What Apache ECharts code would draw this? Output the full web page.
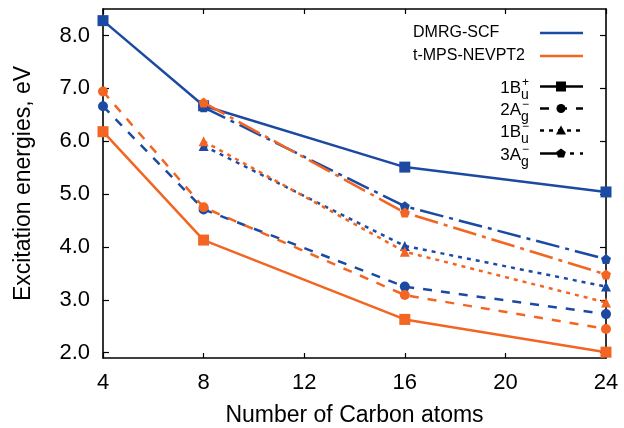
<!DOCTYPE html>
<html><head><meta charset="utf-8">
<script src="https://cdn.jsdelivr.net/npm/echarts@6/dist/echarts.min.js"></script>
<style>html,body{margin:0;padding:0;background:#fff}#c{width:624px;height:428px}</style>
</head><body><div id="c"></div>
<script>
// ---- data ----
const carbons = [4, 8, 16, 24];
const xTickValues = [4, 8, 12, 16, 20, 24];
const yTickValues = [2, 3, 4, 5, 6, 7, 8];
const dmrg_1Bu_plus   = [8.28, 6.67, 5.51, 5.04];
const nevpt_1Bu_plus  = [6.18, 4.13, 2.63, 2.01];
const dmrg_2Ag_minus  = [6.66, 4.71, 3.25, 2.73];
const nevpt_2Ag_minus = [6.94, 4.75, 3.09, 2.45];
const dmrg_1Bu_minus  = [null, 5.91, 4.02, 3.25];
const nevpt_1Bu_minus = [null, 6.00, 3.91, 2.95];
const dmrg_3Ag_minus  = [null, 6.64, 4.77, 3.77];
const nevpt_3Ag_minus = [null, 6.73, 4.65, 3.48];

const BLUE = '#1c4aa3';
const ORANGE = '#f26522';
const FONT = '"Liberation Sans", Arial, Helvetica, sans-serif';
const PENT = 'path://M0,-10 L9.5,-3.1 L5.9,8.1 L-5.9,8.1 L-9.5,-3.1 Z';

function pairs(vals) {
  const out = [];
  carbons.forEach((c, i) => { if (vals[i] != null) out.push([c, vals[i]]); });
  return out;
}
function mk(name, vals, color, dash, symbol, size) {
  return {
    name, type: 'line', data: pairs(vals),
    symbol, symbolSize: size,
    itemStyle: { color },
    lineStyle: { color, width: 2.5, type: dash },
    animation: false, z: color === ORANGE ? 3 : 2
  };
}

const chart = echarts.init(document.getElementById('c'), null, { renderer: 'canvas' });

const axisCommon = {
  axisLine: { show: true, onZero: false, lineStyle: { color: '#000', width: 1.6 } },
  splitLine: { show: false }
};

// legend graphics
const g = [];
function legendText(x, y, text, size, align) {
  g.push({ type: 'text', x: x, y: y, style: { text, font: size + 'px ' + FONT, fill: '#000', align: align, verticalAlign: 'middle' } });
}
function legendLine(y, color, dash) {
  g.push({ type: 'line', shape: { x1: 540, y1: y, x2: 583, y2: y }, style: { stroke: color, lineWidth: 2.5, lineDash: dash } });
}
legendText(413, 33, 'DMRG-SCF', 16, 'left');
legendLine(33, BLUE, null);
legendText(413, 56, 't-MPS-NEVPT2', 16, 'left');
legendLine(56, ORANGE, null);

const rows = [
  { y: 88, main: '1B', sub: 'u', sup: '+', dash: null, marker: 'square' },
  { y: 110, main: '2A', sub: 'g', sup: '\u2212', dash: [9, 9], marker: 'circle' },
  { y: 132, main: '1B', sub: 'u', sup: '\u2212', dash: [4, 5], marker: 'triangle' },
  { y: 155, main: '3A', sub: 'g', sup: '\u2212', dash: [24, 6, 4, 6], marker: 'pent' }
];
rows.forEach(r => {
  legendText(521, r.y, r.main, 17, 'right');
  legendText(521, r.y + 7, r.sub, 14, 'left');
  legendText(522, r.y - 5, r.sup, 12, 'left');
  const ly = r.y - 1.5;
  legendLine(ly, '#000', r.dash);
  const cx = 561, cy = ly;
  if (r.marker === 'square') g.push({ type: 'rect', shape: { x: cx - 5, y: cy - 5, width: 10, height: 10 }, style: { fill: '#000' } });
  if (r.marker === 'circle') g.push({ type: 'circle', shape: { cx, cy, r: 4.5 }, style: { fill: '#000' } });
  if (r.marker === 'triangle') g.push({ type: 'polygon', shape: { points: [[cx, cy - 5], [cx + 5, cy + 4], [cx - 5, cy + 4]] }, style: { fill: '#000' } });
  if (r.marker === 'pent') g.push({ type: 'polygon', shape: { points: [[cx, cy - 5], [cx + 4.8, cy - 1.5], [cx + 3, cy + 4], [cx - 3, cy + 4], [cx - 4.8, cy - 1.5]] }, style: { fill: '#000' } });
});

chart.setOption({
  animation: false,
  backgroundColor: '#fff',
  textStyle: { fontFamily: FONT },
  grid: { left: 103, right: 18, top: 9, bottom: 70, containLabel: false, outerBoundsMode: 'none' },
  xAxis: [
    Object.assign({}, axisCommon, {
      type: 'value', min: 4, max: 24, interval: 4, position: 'bottom',
      name: 'Number of Carbon atoms', nameLocation: 'middle', nameGap: 46,
      nameTextStyle: { fontSize: 23, color: '#000', fontFamily: FONT },
      axisTick: { show: true, inside: true, length: 5, lineStyle: { color: '#000', width: 1.2 } },
      axisLabel: { show: true, fontSize: 22, color: '#000', margin: 14, fontFamily: FONT,
        customValues: xTickValues }
    }),
    Object.assign({}, axisCommon, {
      type: 'value', min: 4, max: 24, interval: 4, position: 'top',
      axisTick: { show: true, inside: true, length: 5, lineStyle: { color: '#000', width: 1.2 } },
      axisLabel: { show: false }
    })
  ],
  yAxis: [
    Object.assign({}, axisCommon, {
      type: 'value', min: 1.9, max: 8.5, position: 'left',
      name: 'Excitation energies, eV', nameLocation: 'middle', nameGap: 68,
      nameTextStyle: { fontSize: 23, color: '#000', fontFamily: FONT },
      axisTick: { show: true, inside: true, length: 6, customValues: yTickValues, lineStyle: { color: '#000', width: 1.2 } },
      axisLabel: { show: true, fontSize: 22, color: '#000', margin: 13, fontFamily: FONT,
        customValues: yTickValues, formatter: v => Number(v).toFixed(1) }
    }),
    Object.assign({}, axisCommon, {
      type: 'value', min: 1.9, max: 8.5, position: 'right',
      axisTick: { show: true, inside: true, length: 6, customValues: yTickValues, lineStyle: { color: '#000', width: 1.2 } },
      axisLabel: { show: false, customValues: yTickValues }
    })
  ],
  series: [
    mk('DMRG 1Bu+', dmrg_1Bu_plus, BLUE, 'solid', 'rect', 11),
    mk('DMRG 2Ag-', dmrg_2Ag_minus, BLUE, [9, 9], 'circle', 10),
    mk('DMRG 1Bu-', dmrg_1Bu_minus, BLUE, [4, 5], 'triangle', 10),
    mk('DMRG 3Ag-', dmrg_3Ag_minus, BLUE, [24, 6, 4, 6], PENT, 10),
    mk('NEVPT2 1Bu+', nevpt_1Bu_plus, ORANGE, 'solid', 'rect', 11),
    mk('NEVPT2 2Ag-', nevpt_2Ag_minus, ORANGE, [9, 9], 'circle', 10),
    mk('NEVPT2 1Bu-', nevpt_1Bu_minus, ORANGE, [4, 5], 'triangle', 10),
    mk('NEVPT2 3Ag-', nevpt_3Ag_minus, ORANGE, [24, 6, 4, 6], PENT, 10)
  ],
  graphic: g
});
</script>
</body></html>
